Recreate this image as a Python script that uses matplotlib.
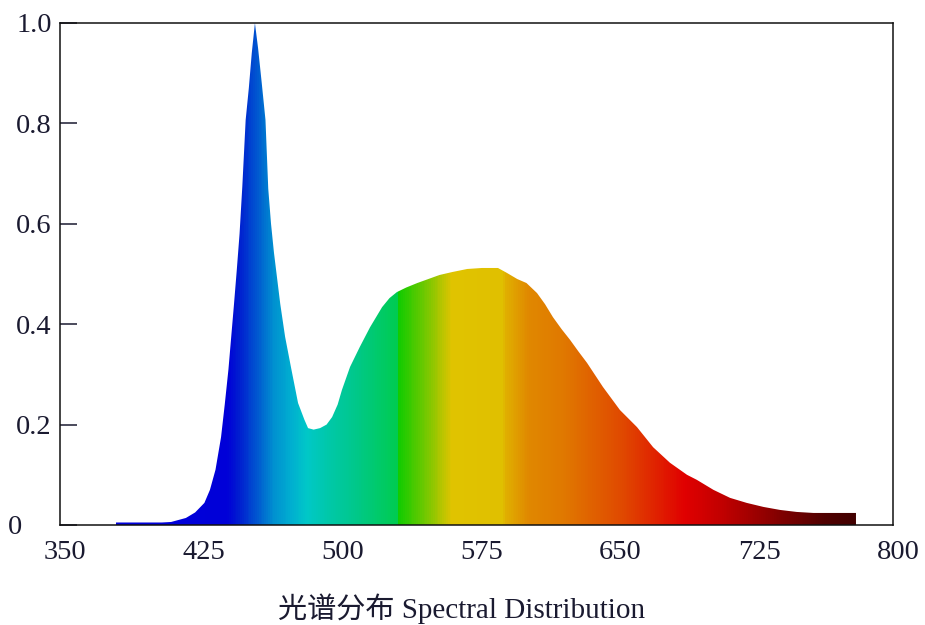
import numpy as np
import matplotlib
matplotlib.use("Agg")
import matplotlib.pyplot as plt
from matplotlib.colors import to_rgb
from matplotlib.transforms import ScaledTranslation

# ---- data ----
wavelength = [380, 395, 405, 410, 412, 418, 423, 428, 431, 434, 437, 439, 441, 442.5,
              444, 445.5, 447, 448.5, 450.3, 452, 453.6, 455.3, 457, 459, 461, 462.5,
              464, 465.6, 467, 469, 471.6, 475, 478.6, 482, 484, 487, 490.5, 494, 497,
              500, 502.3, 506.7, 512, 517.5, 524, 528, 532, 537, 543, 549, 555, 562,
              570, 578, 586.6, 591.5, 597, 602, 607.7, 612, 616.3, 621, 625.5, 630,
              634.7, 643.3, 652.5, 661.7, 670.4, 679.5, 688.7, 694, 703, 712, 721,
              730, 739, 748, 757, 770, 780]
intensity = [0.005, 0.005, 0.005, 0.006, 0.008, 0.014, 0.025, 0.044, 0.07, 0.11, 0.175,
             0.24, 0.31, 0.375, 0.44, 0.508, 0.58, 0.675, 0.807, 0.87, 0.94, 1.0, 0.95,
             0.88, 0.807, 0.67, 0.6, 0.542, 0.5, 0.44, 0.375, 0.31, 0.243, 0.21, 0.193,
             0.19, 0.193, 0.2, 0.215, 0.24, 0.269, 0.315, 0.355, 0.394, 0.434, 0.452,
             0.464, 0.473, 0.482, 0.49, 0.498, 0.504, 0.51, 0.512, 0.512, 0.502, 0.49,
             0.482, 0.462, 0.44, 0.414, 0.39, 0.369, 0.346, 0.323, 0.275, 0.229, 0.195,
             0.155, 0.124, 0.1, 0.09, 0.07, 0.054, 0.044, 0.036, 0.03, 0.026, 0.024,
             0.024, 0.024]

x_ticks = [350, 425, 500, 575, 650, 725, 800]
x_tick_labels = ["350", "425", "500", "575", "650", "725", "800"]
y_ticks = [0, 0.2, 0.4, 0.6, 0.8, 1.0]
y_tick_labels = ["0", "0.2", "0.4", "0.6", "0.8", "1.0"]
xlabel_text = "光谱分布 Spectral Distribution"

# spectral colour stops (style)
stop_wl = [380, 440, 447, 455, 465, 475, 483, 495, 507, 532, 532.5, 549, 561, 589,
           590, 603, 622, 654, 687, 708, 735, 762, 781]
stop_col = ['#0000dd', '#0000d8', '#0020d0', '#0050d0', '#0090d0', '#00b0d0', '#00c8c8',
            '#00c8a8', '#00c890', '#00cc50', '#10cc00', '#80c800', '#e0c400', '#e0c000',
            '#e0b000', '#e08800', '#e07800', '#e04800', '#e00000', '#c00000', '#880000',
            '#500000', '#400000']

serif = ['Liberation Serif', 'Noto Sans CJK SC', 'DejaVu Sans']
plt.rcParams['font.family'] = serif

fig = plt.figure(figsize=(9.25, 6.25), dpi=100)
ax = fig.add_axes([60 / 925, 1 - 525 / 625, 833 / 925, 502 / 625])

# gradient image clipped to the area under the curve
wl0, wl1 = wavelength[0], wavelength[-1] + 1
cols = np.arange(wl0, wl1) + 0.5
rgb = np.array([to_rgb(c) for c in stop_col])
img = np.stack([np.interp(cols, stop_wl, rgb[:, k]) for k in range(3)], axis=-1)[None, :, :]
poly = ax.fill_between(wavelength, intensity, 0, facecolor='none', edgecolor='none')
im = ax.imshow(img, extent=[wl0, wl1, 0, 1.0], aspect='auto', interpolation='nearest',
               origin='lower', zorder=1)
im.set_clip_path(poly.get_paths()[0], transform=ax.transData)

ax.set_xlim(350, 800)
ax.set_ylim(0, 1.0)

for s in ax.spines.values():
    s.set_linewidth(1.1)
    s.set_color('#111111')
    s.set_zorder(3)

ax.set_xticks(x_ticks)
ax.set_xticklabels(x_tick_labels)
ax.set_yticks(y_ticks)
ax.set_yticklabels(y_tick_labels)
ax.tick_params(axis='x', length=0, pad=11, labelsize=20.5, colors='#1a1a30')
ax.tick_params(axis='y', direction='in', length=12, width=1.1, pad=6, labelsize=20.5,
               colors='#1a1a30')

fig.canvas.draw()
for lab in ax.get_xticklabels():
    lab.set_transform(lab.get_transform() + ScaledTranslation(5 / 100, 0, fig.dpi_scale_trans))
ylabs = ax.get_yticklabels()
ylabs[0].set_transform(ylabs[0].get_transform() + ScaledTranslation(-30 / 100, 0, fig.dpi_scale_trans))

fig.text(462 / 925, 1 - 609 / 625, xlabel_text, ha='center', va='center',
         fontsize=21, color='#1a1a30', family=serif)

fig.savefig('out.png', dpi=100, facecolor='white')
